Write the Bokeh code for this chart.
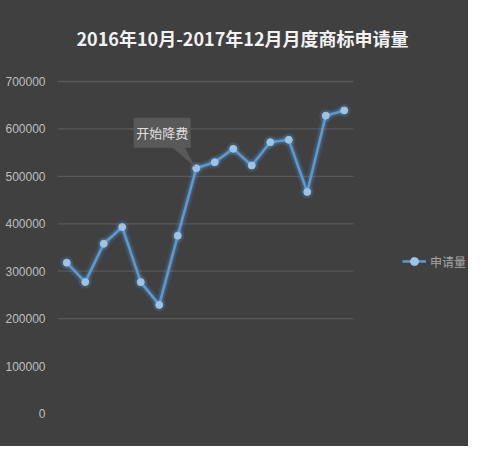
from bokeh.plotting import figure
from bokeh.models import Range1d, FixedTicker, Legend, LegendItem, ColumnDataSource, NumeralTickFormatter
from bokeh.core.properties import value
from bokeh.embed import file_html
from bokeh.resources import INLINE

# ---- data ----
months = ["2016-09", "2016-10", "2016-11", "2016-12", "2017-01", "2017-02", "2017-03", "2017-04",
          "2017-05", "2017-06", "2017-07", "2017-08", "2017-09", "2017-10", "2017-11", "2017-12"]
applications = [318000, 277000, 358000, 393000, 277000, 229000, 375000, 517000,
                530000, 558000, 523000, 572000, 577000, 467000, 628000, 639000]
y_ticks = [0, 100000, 200000, 300000, 400000, 500000, 600000, 700000]
grid_ticks = [200000, 300000, 400000, 500000, 600000, 700000]
y_max = 700000
series_name = "申请量"
title_text = "2016年10月-2017年12月月度商标申请量"
note_text = "开始降费"
note_index = 7

BG = "#404040"
LINE = "#5b9bd5"
MARK = "#9dc3e6"

# ---- layout (pixels) ----
W, H = 468, 446
LEFT = 57            # left edge of the plotting area
PLOT_W = 296         # width of the category area
Y_TOP_PX, Y_BOT_PX = 81, 413   # pixel rows of y_max and 0
TITLE_CX, TITLE_CY = 242, 37

n = len(months)
px_per = PLOT_W / n
x_start = -0.5
x_end = x_start + (W - LEFT) / px_per
upp = y_max / (Y_BOT_PX - Y_TOP_PX)
y_end = y_max + Y_TOP_PX * upp
y_start = -(H - Y_BOT_PX) * upp

xs = list(range(n))
src = ColumnDataSource(dict(x=xs, y=applications, m=months))

p = figure(width=W, height=H, output_backend="svg", toolbar_location=None,
           x_range=Range1d(x_start, x_end), y_range=Range1d(y_start, y_end),
           min_border_left=LEFT, min_border_right=0, min_border_top=0, min_border_bottom=0)
p.background_fill_color = BG
p.border_fill_color = BG
p.outline_line_color = None
p.styles = {"background-color": BG}

p.xaxis.visible = False
p.xgrid.visible = False
p.ygrid.visible = False
ya = p.yaxis[0]
ya.ticker = FixedTicker(ticks=y_ticks)
ya.formatter = NumeralTickFormatter(format="0")
ya.axis_line_color = None
ya.major_tick_line_color = None
ya.minor_tick_line_color = None
ya.major_tick_out = 0
ya.major_tick_in = 0
ya.minor_tick_out = 0
ya.major_label_text_color = "#bfbfbf"
ya.major_label_text_font = "Liberation Sans"
ya.major_label_text_font_size = "12px"
ya.major_label_standoff = 12

# title (drawn as text inside the full-size frame)
p.text([x_start + (TITLE_CX - LEFT) / px_per], [y_max + (Y_TOP_PX - TITLE_CY) * upp],
       text=[title_text], text_align="center", text_baseline="middle",
       text_color="#f2f2f2", text_font=value("Noto Sans CJK SC"),
       text_font_size="18px", text_font_style="bold")

# horizontal grid lines over the category area only
p.segment(x0=[x_start] * len(grid_ticks), x1=[n - 0.5] * len(grid_ticks),
          y0=grid_ticks, y1=grid_ticks, line_color="#595959", line_width=1.3)

# glow
p.line("x", "y", source=src, line_color=LINE, line_width=9, line_alpha=0.12)
p.line("x", "y", source=src, line_color=LINE, line_width=5.5, line_alpha=0.2)
p.scatter("x", "y", source=src, size=13, fill_color=LINE, fill_alpha=0.2, line_color=None)
ln = p.line("x", "y", source=src, line_color=LINE, line_width=2.5)
sc = p.scatter("x", "y", source=src, size=7, fill_color=MARK, line_color=MARK)

# callout
nx = xs[note_index]
ny = applications[note_index]
box_x = nx - 1.84
box_y = ny + 75000
p.patch([nx - 1.35, nx - 0.65, nx - 0.05], [ny + 46000, ny + 46000, ny + 2000],
        fill_color="#595959", line_color=None)
p.rect([box_x], [box_y], width=57, height=30, width_units="screen", height_units="screen",
       fill_color="#595959", line_color=None)
p.text([box_x], [box_y], text=[note_text], text_align="center", text_baseline="middle",
       text_color="#e0e0e0", text_font=value("Noto Sans CJK SC"), text_font_size="13px")

legend = Legend(items=[LegendItem(label=series_name, renderers=[ln, sc])],
                location=(345, 175), orientation="vertical")
legend.background_fill_alpha = 0
legend.border_line_color = None
legend.padding = 0
legend.margin = 0
legend.glyph_width = 24
legend.glyph_height = 20
legend.label_standoff = 4
legend.label_text_color = "#a6a6a6"
legend.label_text_font = "Noto Sans CJK SC"
legend.label_text_font_size = "12px"
p.add_layout(legend, "center")

open("out.html", "w").write(file_html(p, INLINE))
